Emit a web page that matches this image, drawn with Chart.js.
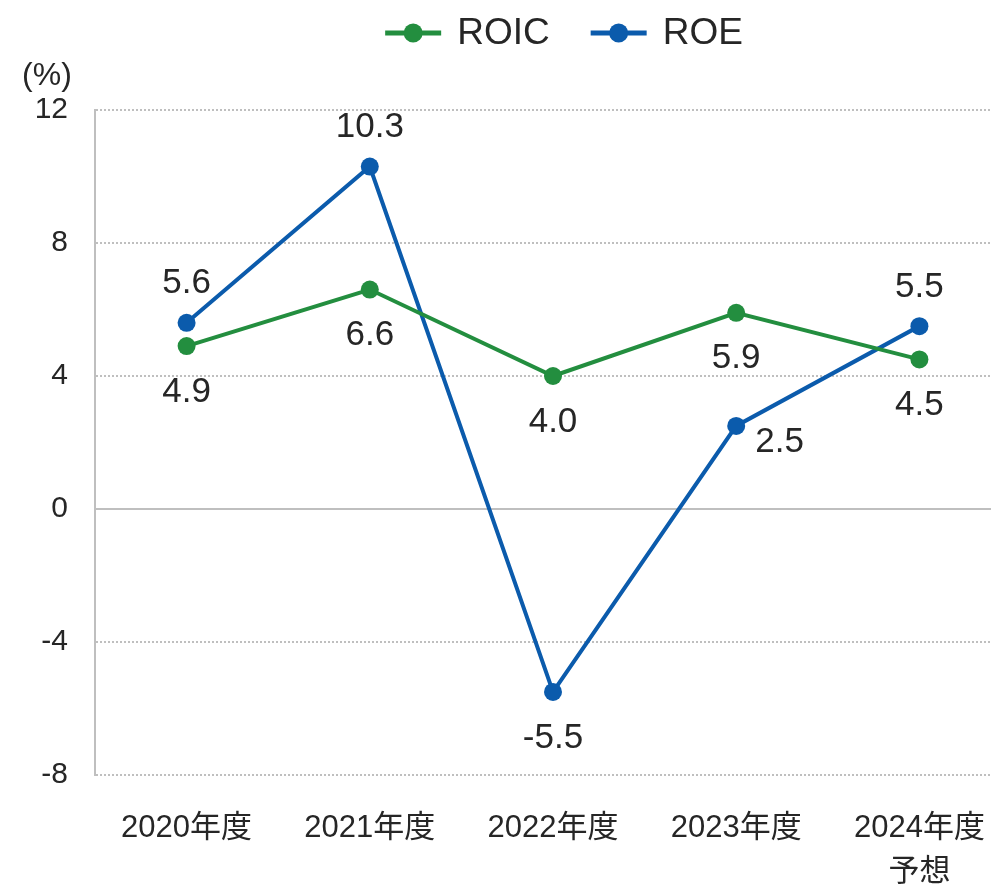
<!DOCTYPE html>
<html>
<head>
<meta charset="utf-8">
<script src="https://cdn.jsdelivr.net/npm/chart.js@4"></script>
<style>
  html, body { margin: 0; padding: 0; background: #fff; overflow: hidden; }
  #wrap { width: 1020px; height: 887px; }
</style>
</head>
<body>
<div id="wrap"><canvas id="chart" width="1020" height="887"></canvas></div>
<script>
// Données
const categories = ["2020年度", "2021年度", "2022年度", "2023年度", ["2024年度", "予想"]];
const roic = [4.9, 6.6, 4.0, 5.9, 4.5];
const roe = [5.6, 10.3, -5.5, 2.5, 5.5];
const yTicks = [-8, -4, 0, 4, 8, 12];

// Styles
const FONT = '"Liberation Sans", Arial, "Noto Sans CJK JP", sans-serif';
const TEXT = "#262626";
const GRID = "#bfbfbf";
const GREEN = "#238e3f";
const BLUE = "#0b5bac";

// where each value label sits relative to its point
const labelPos = [
  ["below", "below", "below", "below", "below"],
  ["above", "above", "below", "right", "above"]
];

// Etiquettes de valeurs
const valueLabels = {
  id: "valueLabels",
  afterDatasetsDraw(chart) {
    const ctx = chart.ctx;
    ctx.save();
    ctx.font = "35px " + FONT;
    ctx.fillStyle = TEXT;
    ctx.textBaseline = "middle";
    chart.data.datasets.forEach((ds, di) => {
      const meta = chart.getDatasetMeta(di);
      meta.data.forEach((pt, i) => {
        const txt = ds.data[i].toFixed(1);
        const pos = labelPos[di][i];
        let x = pt.x, y = pt.y;
        ctx.textAlign = "center";
        if (pos === "above") y -= 39;
        else if (pos === "below") y += 46;
        else { x += 19; y += 16; ctx.textAlign = "left"; }
        ctx.fillText(txt, x, y);
      });
    });
    ctx.restore();
  }
};

// Légende + unité
const topDecor = {
  id: "topDecor",
  afterDraw(chart) {
    const ctx = chart.ctx;
    const area = chart.chartArea;
    ctx.save();
    ctx.font = "37px " + FONT;
    ctx.textBaseline = "middle";
    const items = chart.data.datasets.map(ds => ({
      label: ds.label, color: ds.borderColor, w: 56 + 16 + ctx.measureText(ds.label).width
    }));
    const gap = 41;
    const total = items.reduce((s, it) => s + it.w, 0) + gap * (items.length - 1);
    let x = (area.left + area.right) / 2 + 11 - total / 2;
    const y = 33;
    items.forEach(it => {
      ctx.strokeStyle = it.color;
      ctx.lineWidth = 5;
      ctx.beginPath();
      ctx.moveTo(x, y);
      ctx.lineTo(x + 56, y);
      ctx.stroke();
      ctx.fillStyle = it.color;
      ctx.beginPath();
      ctx.arc(x + 28, y, 9.5, 0, Math.PI * 2);
      ctx.fill();
      ctx.fillStyle = TEXT;
      ctx.textAlign = "left";
      ctx.fillText(it.label, x + 56 + 16, y + 1);
      x += it.w + gap;
    });
    // unité
    ctx.font = "32px " + FONT;
    ctx.textAlign = "center";
    ctx.fillText("(%)", area.left - 48, area.top - 34);
    ctx.restore();
  }
};

new Chart(document.getElementById("chart"), {
  type: "line",
  data: {
    labels: categories,
    datasets: [
      {
        label: "ROIC", data: roic, borderColor: GREEN, backgroundColor: GREEN,
        borderWidth: 4, pointRadius: 9, pointBackgroundColor: GREEN, pointBorderWidth: 0,
        tension: 0
      },
      {
        label: "ROE", data: roe, borderColor: BLUE, backgroundColor: BLUE,
        borderWidth: 4, pointRadius: 9, pointBackgroundColor: BLUE, pointBorderWidth: 0,
        tension: 0
      }
    ]
  },
  options: {
    responsive: false,
    animation: false,
    layout: { padding: { top: 110, right: 0, bottom: 0, left: 0 } },
    plugins: { legend: { display: false }, tooltip: { enabled: false } },
    scales: {
      x: {
        offset: true,
        grid: { display: false, drawTicks: false },
        border: { display: false },
        ticks: {
          color: TEXT, padding: 31, maxRotation: 0, autoSkip: false,
          font: { size: 31, family: FONT, lineHeight: 1.42 }
        },
        afterFit(scale) { scale.height = 112; }
      },
      y: {
        min: yTicks[0],
        max: yTicks[yTicks.length - 1],
        afterBuildTicks(scale) { scale.ticks = yTicks.map(v => ({ value: v })); },
        grid: {
          color: GRID, lineWidth: 2, drawTicks: false
        },
        border: {
          display: true, color: GRID, width: 2,
          dash: ctx => (ctx.tick && ctx.tick.value === 0) ? [] : [2, 2]
        },
        ticks: {
          color: TEXT, padding: 27,
          font: { size: 30, family: FONT }
        },
        afterFit(scale) { scale.width = 95; }
      }
    }
  },
  plugins: [valueLabels, topDecor]
});
</script>
</body>
</html>
